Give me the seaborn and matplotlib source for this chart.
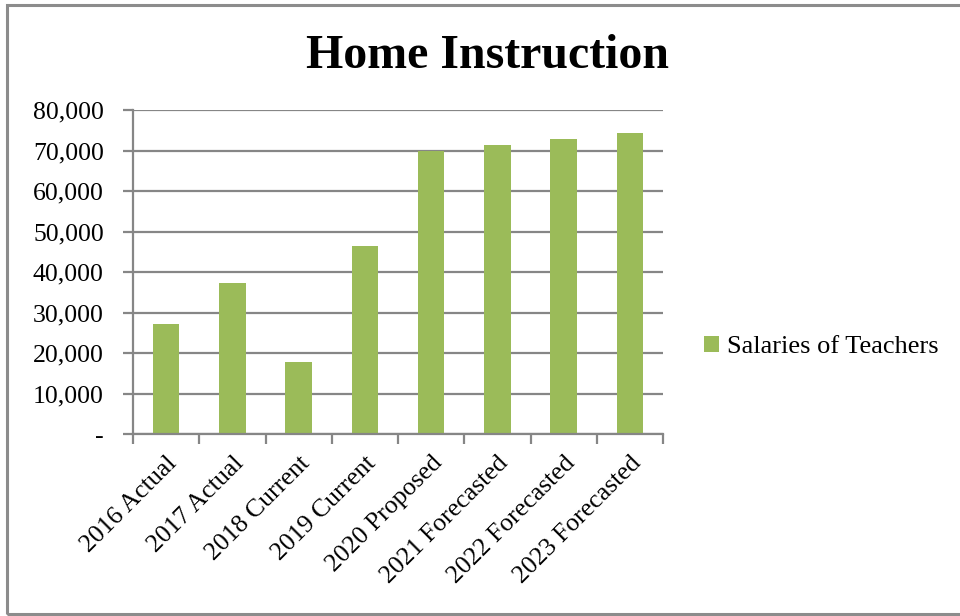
import matplotlib
matplotlib.use("Agg")
import matplotlib.pyplot as plt
import seaborn as sns
import pandas as pd
from matplotlib.patches import Rectangle, Patch
from matplotlib.ticker import FuncFormatter, FixedLocator

categories = ["2016 Actual", "2017 Actual", "2018 Current", "2019 Current",
              "2020 Proposed", "2021 Forecasted", "2022 Forecasted", "2023 Forecasted"]
salaries = [27100, 37400, 17800, 46400, 70000, 71400, 72900, 74400]
series_name = "Salaries of Teachers"
title = "Home Instruction"
yticks = [0, 10000, 20000, 30000, 40000, 50000, 60000, 70000, 80000]

sns.set_theme(style="white")
plt.rcParams["font.family"] = ["Liberation Serif", "DejaVu Serif"]
plt.rcParams["text.color"] = "black"
plt.rcParams["xtick.color"] = "black"
plt.rcParams["ytick.color"] = "black"

df = pd.DataFrame({"category": categories, "value": salaries})

fig = plt.figure(figsize=(9.6, 6.16), dpi=100)
ax = fig.add_axes([133/960, 1 - 434/616, (663 - 133)/960, (434 - 110)/616])

sns.barplot(data=df, x="category", y="value", color="#9BBB59", width=0.4,
            saturation=1, ax=ax, edgecolor="none")

grid_c = "#868686"
ax.set_ylim(0, 80000)
ax.set_xlim(-0.5, len(categories) - 0.5)
ax.yaxis.set_major_locator(FixedLocator(yticks))
ax.yaxis.set_major_formatter(FuncFormatter(lambda v, p: "-" if v == 0 else f"{int(v):,}"))
ax.grid(axis="y", color=grid_c, linewidth=1.6)
ax.set_axisbelow(True)
for s in ["top", "right"]:
    ax.spines[s].set_visible(False)
for s in ["left", "bottom"]:
    ax.spines[s].set_color(grid_c)
    ax.spines[s].set_linewidth(1.6)

ax.set_xlabel("")
ax.set_ylabel("")
ax.tick_params(axis="y", which="major", direction="out", length=7, width=1.6,
               color=grid_c, labelsize=18.5, pad=14, labelcolor="black", left=True)
ax.set_xticks(range(len(categories)))
ax.set_xticklabels(categories, rotation=45, ha="right", rotation_mode="anchor",
                   fontsize=18.5, color="black")
ax.tick_params(axis="x", which="major", length=0, pad=13)
ax.set_xticks([i - 0.5 for i in range(len(categories) + 1)], minor=True)
ax.tick_params(axis="x", which="minor", direction="out", length=7, width=1.6,
               color=grid_c, bottom=True)

fig.text(487/960, 1 - 68/616, title, ha="center", va="baseline",
         fontsize=34.5, fontweight="bold", color="black")

handle = Patch(facecolor="#9BBB59", edgecolor="none")
fig.legend([handle], [series_name], loc="center left",
           bbox_to_anchor=(691/960, 1 - 347/616), frameon=False,
           fontsize=19, handlelength=0.55, handleheight=0.55,
           handletextpad=0.3, borderpad=0, labelcolor="black")

fig.patches.append(Rectangle((6.5/960, 2/616), (980 - 6.5)/960, (611.5 - 2)/616,
                             transform=fig.transFigure, fill=False,
                             edgecolor="#8c8c8c", linewidth=2.2))

fig.savefig("out.png", dpi=100)
